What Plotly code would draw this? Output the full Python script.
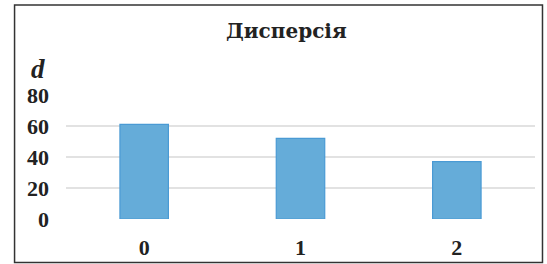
import plotly.graph_objects as go

categories = ["0", "1", "2"]
values = [61, 52, 37]
y_ticks = [0, 20, 40, 60, 80]

W, H = 547, 264
L, R, T, B = 65.5, 12, 95, 45
pw = W - L - R
ph = H - T - B

def px(x):
    return (x - L) / pw

def py(y):
    return (H - B - y) / ph

tick_font = "Liberation Serif, serif"
title_font = "DejaVu Serif, serif"

fig = go.Figure(go.Bar(
    x=categories, y=values,
    marker=dict(color="#65acd9", line=dict(color="#4a9ad4", width=1.2)),
    width=0.31,
))

fig.update_layout(
    width=W, height=H,
    margin=dict(l=L, r=R, t=T, b=B),
    paper_bgcolor="white", plot_bgcolor="white",
    showlegend=False,
    font=dict(family=tick_font, size=22, color="#222"),
    xaxis=dict(type="category", showgrid=False, showline=False, zeroline=False,
               automargin=False,
               tickfont=dict(family=tick_font, size=22, color="#222", weight="bold"),
               ticklabelstandoff=13),
    yaxis=dict(range=[0, 80], tickvals=y_ticks, showgrid=True, gridcolor="#e2e2e2",
               gridwidth=1.5, zeroline=False, showline=False, automargin=False,
               tickfont=dict(family=tick_font, size=22, color="#222", weight="bold"),
               ticklabelstandoff=16),
    shapes=[dict(type="rect", xref="paper", yref="paper",
                 x0=px(14), x1=px(542.5), y0=py(262.5), y1=py(5),
                 line=dict(color="#333", width=1.5), fillcolor="rgba(0,0,0,0)")],
    annotations=[
        dict(text="<b>Дисперсія</b>", xref="paper", yref="paper",
             x=px(286), y=py(31), showarrow=False,
             font=dict(family=title_font, size=20, color="#222"),
             xanchor="center", yanchor="middle"),
        dict(text="<b><i>d</i></b>", xref="paper", yref="paper",
             x=px(37), y=py(69), showarrow=False,
             font=dict(family=tick_font, size=27, color="#222"),
             xanchor="center", yanchor="middle"),
    ],
)

fig.write_html("out.html", config={"displayModeBar": False},
               post_script="document.body.style.margin='0';")
